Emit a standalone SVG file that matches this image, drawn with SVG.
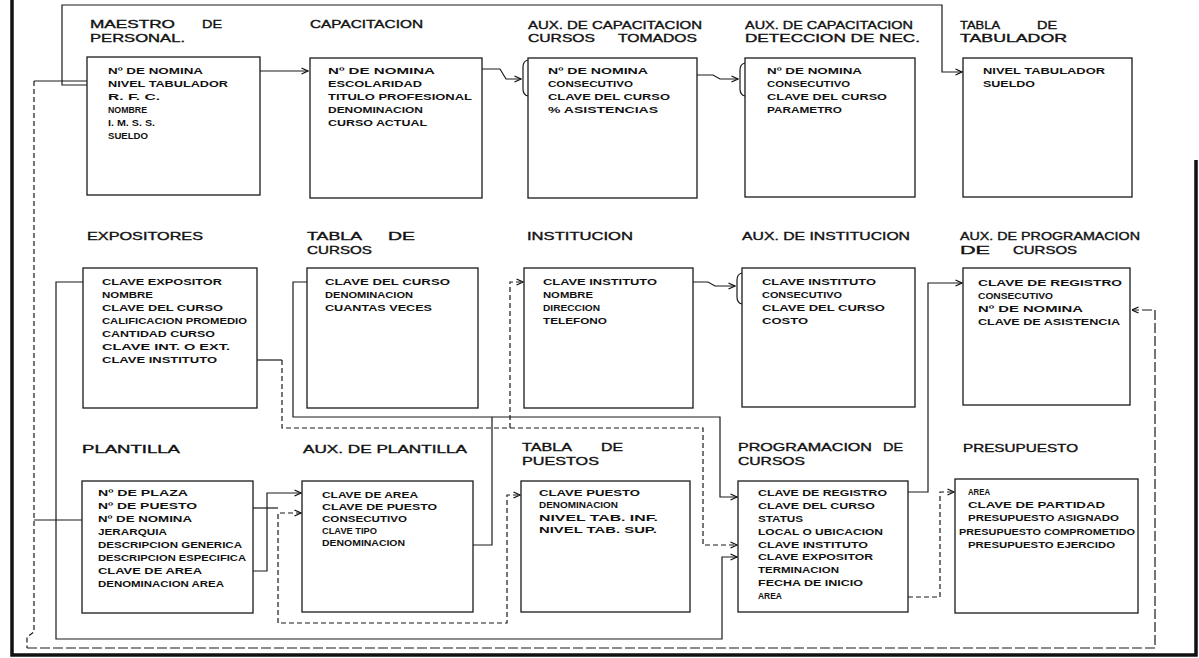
<svg xmlns="http://www.w3.org/2000/svg" width="1199" height="658" viewBox="0 0 1199 658">
<style>
.bg{fill:#fff}
.box{fill:none;stroke:#1a1a1a;stroke-width:1.3}
.t{font-family:"Liberation Sans",Arial,sans-serif;font-size:11px;fill:#111;stroke:#111;stroke-width:0.35}
.f{font-family:"Liberation Sans",Arial,sans-serif;font-size:9px;font-weight:bold;fill:#111}
.c{fill:none;stroke:#1a1a1a;stroke-width:1.2}
.d{stroke-dasharray:5 3}
.dl{stroke-dasharray:10 3}
.br{fill:none;stroke:#1a1a1a;stroke-width:1.2}
.frame{fill:none;stroke:#111;stroke-width:3.5}
</style>
<defs>
<marker id="ar" viewBox="0 0 8 8" refX="7.5" refY="4" markerWidth="8" markerHeight="8" markerUnits="userSpaceOnUse" orient="auto-start-reverse">
<path d="M1,1 L7.5,4 L1,7" fill="none" stroke="#111" stroke-width="1.3"/>
</marker>
</defs>
<rect class="bg" x="0" y="0" width="1199" height="658"/>
<path class="frame" d="M12,0 V655 H1196 V160"/>

<g id="connectors">
<path class="c" d="M260,71 H308" marker-end="url(#ar)"/>
<path class="c" d="M482,69 H500 L506,79 H521" marker-end="url(#ar)"/>
<path class="c" d="M697,75 H713 L720,79 H738" marker-end="url(#ar)"/>
<path class="c" d="M87,85 H62 V5 H942 V72 H962" marker-end="url(#ar)"/>
<path class="c" d="M87,81 H34"/>
<path class="c d" d="M34,81 V632 L27,637 V648"/>
<path class="c dl" d="M27,648 H1155 V310 H1132" marker-end="url(#ar)"/>
<path class="c" d="M34,520 H82"/>
<path class="c" d="M83,282 H56 V639 H722 V557 H737" marker-end="url(#ar)"/>
<path class="c" d="M307,282 H293 V417 H720 V497 H737" marker-end="url(#ar)"/>
<path class="c" d="M473,545 H492 V417"/>
<path class="c" d="M257,360 H282"/>
<path class="c d" d="M282,360 V428 H703 V545 H737" marker-end="url(#ar)"/>
<path class="c d" d="M510,428 V282 H523" marker-end="url(#ar)"/>
<path class="c" d="M693,282 H708 L715,286 H735" marker-end="url(#ar)"/>
<path class="c" d="M908,492 H928 V283 H962" marker-end="url(#ar)"/>
<path class="c d" d="M908,597 H940 V492 H954" marker-end="url(#ar)"/>
<path class="c" d="M253,571 H267 V493 H301" marker-end="url(#ar)"/>
<path class="c" d="M253,508 H278"/>
<path class="c d" d="M301,513 H278 V623 H507 V495 H520" marker-start="url(#ar)" marker-end="url(#ar)"/>
</g>

<g id="maestro-de-personal">
<rect class="box" x="87" y="57" width="173" height="138"/>
<text class="t" x="90" y="28" textLength="85" lengthAdjust="spacingAndGlyphs">MAESTRO</text>
<text class="t" x="202" y="28" textLength="20" lengthAdjust="spacingAndGlyphs">DE</text>
<text class="t" x="90" y="42" textLength="95" lengthAdjust="spacingAndGlyphs">PERSONAL.</text>
<text class="f" x="108" y="74" textLength="95" lengthAdjust="spacingAndGlyphs">Nº DE NOMINA</text>
<text class="f" x="108" y="87" textLength="120" lengthAdjust="spacingAndGlyphs">NIVEL TABULADOR</text>
<text class="f" x="108" y="100" textLength="52" lengthAdjust="spacingAndGlyphs">R. F. C.</text>
<text class="f" x="108" y="113" textLength="39" lengthAdjust="spacingAndGlyphs">NOMBRE</text>
<text class="f" x="108" y="126" textLength="47" lengthAdjust="spacingAndGlyphs">I. M. S. S.</text>
<text class="f" x="108" y="139" textLength="40" lengthAdjust="spacingAndGlyphs">SUELDO</text>
</g>

<g id="capacitacion">
<rect class="box" x="310" y="58" width="172" height="140"/>
<text class="t" x="310" y="28" textLength="113" lengthAdjust="spacingAndGlyphs">CAPACITACION</text>
<text class="f" x="328" y="74" textLength="107" lengthAdjust="spacingAndGlyphs">Nº DE NOMINA</text>
<text class="f" x="328" y="87" textLength="94" lengthAdjust="spacingAndGlyphs">ESCOLARIDAD</text>
<text class="f" x="328" y="100" textLength="144" lengthAdjust="spacingAndGlyphs">TITULO PROFESIONAL</text>
<text class="f" x="328" y="113" textLength="95" lengthAdjust="spacingAndGlyphs">DENOMINACION</text>
<text class="f" x="328" y="126" textLength="99" lengthAdjust="spacingAndGlyphs">CURSO ACTUAL</text>
</g>

<g id="aux-capacitacion-cursos-tomados">
<rect class="box" x="528" y="58" width="169" height="140"/>
<path class="br" d="M528,60 Q523,61 523,67 V89 Q523,95 528,96"/>
<text class="t" x="528" y="29" textLength="174" lengthAdjust="spacingAndGlyphs">AUX. DE CAPACITACION</text>
<text class="t" x="528" y="42" textLength="67" lengthAdjust="spacingAndGlyphs">CURSOS</text>
<text class="t" x="618" y="42" textLength="79" lengthAdjust="spacingAndGlyphs">TOMADOS</text>
<text class="f" x="548" y="74" textLength="100" lengthAdjust="spacingAndGlyphs">Nº DE NOMINA</text>
<text class="f" x="548" y="87" textLength="85" lengthAdjust="spacingAndGlyphs">CONSECUTIVO</text>
<text class="f" x="548" y="100" textLength="122" lengthAdjust="spacingAndGlyphs">CLAVE DEL CURSO</text>
<text class="f" x="548" y="113" textLength="110" lengthAdjust="spacingAndGlyphs">% ASISTENCIAS</text>
</g>

<g id="aux-capacitacion-deteccion">
<rect class="box" x="745" y="58" width="170" height="139"/>
<path class="br" d="M745,63 Q740,64 740,70 V89 Q740,95 745,96"/>
<text class="t" x="745" y="29" textLength="168" lengthAdjust="spacingAndGlyphs">AUX. DE CAPACITACION</text>
<text class="t" x="745" y="42" textLength="175" lengthAdjust="spacingAndGlyphs">DETECCION DE NEC.</text>
<text class="f" x="767" y="74" textLength="95" lengthAdjust="spacingAndGlyphs">Nº DE NOMINA</text>
<text class="f" x="767" y="87" textLength="83" lengthAdjust="spacingAndGlyphs">CONSECUTIVO</text>
<text class="f" x="767" y="100" textLength="120" lengthAdjust="spacingAndGlyphs">CLAVE DEL CURSO</text>
<text class="f" x="767" y="113" textLength="75" lengthAdjust="spacingAndGlyphs">PARAMETRO</text>
</g>

<g id="tabla-de-tabulador">
<rect class="box" x="963" y="58" width="169" height="139"/>
<text class="t" x="960" y="29" textLength="40" lengthAdjust="spacingAndGlyphs">TABLA</text>
<text class="t" x="1037" y="29" textLength="20" lengthAdjust="spacingAndGlyphs">DE</text>
<text class="t" x="960" y="42" textLength="107" lengthAdjust="spacingAndGlyphs">TABULADOR</text>
<text class="f" x="983" y="74" textLength="122" lengthAdjust="spacingAndGlyphs">NIVEL TABULADOR</text>
<text class="f" x="983" y="87" textLength="52" lengthAdjust="spacingAndGlyphs">SUELDO</text>
</g>

<g id="expositores">
<rect class="box" x="83" y="268" width="174" height="140"/>
<text class="t" x="87" y="240" textLength="116" lengthAdjust="spacingAndGlyphs">EXPOSITORES</text>
<text class="f" x="102" y="285" textLength="120" lengthAdjust="spacingAndGlyphs">CLAVE EXPOSITOR</text>
<text class="f" x="102" y="298" textLength="51" lengthAdjust="spacingAndGlyphs">NOMBRE</text>
<text class="f" x="102" y="311" textLength="121" lengthAdjust="spacingAndGlyphs">CLAVE DEL CURSO</text>
<text class="f" x="102" y="324" textLength="145" lengthAdjust="spacingAndGlyphs">CALIFICACION PROMEDIO</text>
<text class="f" x="102" y="337" textLength="113" lengthAdjust="spacingAndGlyphs">CANTIDAD CURSO</text>
<text class="f" x="102" y="350" textLength="128" lengthAdjust="spacingAndGlyphs">CLAVE INT. O EXT.</text>
<text class="f" x="102" y="363" textLength="115" lengthAdjust="spacingAndGlyphs">CLAVE INSTITUTO</text>
</g>

<g id="tabla-de-cursos">
<rect class="box" x="307" y="268" width="171" height="140"/>
<text class="t" x="307" y="240" textLength="55" lengthAdjust="spacingAndGlyphs">TABLA</text>
<text class="t" x="388" y="240" textLength="27" lengthAdjust="spacingAndGlyphs">DE</text>
<text class="t" x="307" y="254" textLength="65" lengthAdjust="spacingAndGlyphs">CURSOS</text>
<text class="f" x="325" y="285" textLength="125" lengthAdjust="spacingAndGlyphs">CLAVE DEL CURSO</text>
<text class="f" x="325" y="298" textLength="88" lengthAdjust="spacingAndGlyphs">DENOMINACION</text>
<text class="f" x="325" y="311" textLength="107" lengthAdjust="spacingAndGlyphs">CUANTAS VECES</text>
</g>

<g id="institucion">
<rect class="box" x="524" y="268" width="169" height="140"/>
<text class="t" x="527" y="240" textLength="106" lengthAdjust="spacingAndGlyphs">INSTITUCION</text>
<text class="f" x="543" y="285" textLength="114" lengthAdjust="spacingAndGlyphs">CLAVE INSTITUTO</text>
<text class="f" x="543" y="298" textLength="50" lengthAdjust="spacingAndGlyphs">NOMBRE</text>
<text class="f" x="543" y="311" textLength="57" lengthAdjust="spacingAndGlyphs">DIRECCION</text>
<text class="f" x="543" y="324" textLength="64" lengthAdjust="spacingAndGlyphs">TELEFONO</text>
</g>

<g id="aux-de-institucion">
<rect class="box" x="742" y="268" width="173" height="139"/>
<path class="br" d="M742,273 Q737,274 737,280 V297 Q737,303 742,304"/>
<text class="t" x="742" y="240" textLength="168" lengthAdjust="spacingAndGlyphs">AUX. DE INSTITUCION</text>
<text class="f" x="762" y="285" textLength="114" lengthAdjust="spacingAndGlyphs">CLAVE INSTITUTO</text>
<text class="f" x="762" y="298" textLength="80" lengthAdjust="spacingAndGlyphs">CONSECUTIVO</text>
<text class="f" x="762" y="311" textLength="123" lengthAdjust="spacingAndGlyphs">CLAVE DEL CURSO</text>
<text class="f" x="762" y="324" textLength="46" lengthAdjust="spacingAndGlyphs">COSTO</text>
</g>

<g id="aux-de-programacion-de-cursos">
<rect class="box" x="963" y="268" width="167" height="137"/>
<text class="t" x="960" y="240" textLength="180" lengthAdjust="spacingAndGlyphs">AUX. DE PROGRAMACION</text>
<text class="t" x="960" y="254" textLength="30" lengthAdjust="spacingAndGlyphs">DE</text>
<text class="t" x="1013" y="254" textLength="64" lengthAdjust="spacingAndGlyphs">CURSOS</text>
<text class="f" x="978" y="286" textLength="144" lengthAdjust="spacingAndGlyphs">CLAVE DE REGISTRO</text>
<text class="f" x="978" y="299" textLength="75" lengthAdjust="spacingAndGlyphs">CONSECUTIVO</text>
<text class="f" x="978" y="312" textLength="105" lengthAdjust="spacingAndGlyphs">Nº DE NOMINA</text>
<text class="f" x="978" y="325" textLength="142" lengthAdjust="spacingAndGlyphs">CLAVE DE ASISTENCIA</text>
</g>

<g id="plantilla">
<rect class="box" x="82" y="481" width="171" height="132"/>
<text class="t" x="82" y="453" textLength="98" lengthAdjust="spacingAndGlyphs">PLANTILLA</text>
<text class="f" x="98" y="496" textLength="90" lengthAdjust="spacingAndGlyphs">Nº DE PLAZA</text>
<text class="f" x="98" y="509" textLength="99" lengthAdjust="spacingAndGlyphs">Nº DE PUESTO</text>
<text class="f" x="98" y="522" textLength="94" lengthAdjust="spacingAndGlyphs">Nº DE NOMINA</text>
<text class="f" x="98" y="535" textLength="69" lengthAdjust="spacingAndGlyphs">JERARQUIA</text>
<text class="f" x="98" y="548" textLength="144" lengthAdjust="spacingAndGlyphs">DESCRIPCION GENERICA</text>
<text class="f" x="98" y="561" textLength="148" lengthAdjust="spacingAndGlyphs">DESCRIPCION ESPECIFICA</text>
<text class="f" x="98" y="574" textLength="104" lengthAdjust="spacingAndGlyphs">CLAVE DE AREA</text>
<text class="f" x="98" y="587" textLength="126" lengthAdjust="spacingAndGlyphs">DENOMINACION AREA</text>
</g>

<g id="aux-de-plantilla">
<rect class="box" x="302" y="481" width="171" height="131"/>
<text class="t" x="303" y="453" textLength="164" lengthAdjust="spacingAndGlyphs">AUX. DE PLANTILLA</text>
<text class="f" x="322" y="498" textLength="96" lengthAdjust="spacingAndGlyphs">CLAVE DE AREA</text>
<text class="f" x="322" y="510" textLength="115" lengthAdjust="spacingAndGlyphs">CLAVE DE PUESTO</text>
<text class="f" x="322" y="522" textLength="85" lengthAdjust="spacingAndGlyphs">CONSECUTIVO</text>
<text class="f" x="322" y="534" textLength="55" lengthAdjust="spacingAndGlyphs">CLAVE TIPO</text>
<text class="f" x="322" y="546" textLength="83" lengthAdjust="spacingAndGlyphs">DENOMINACION</text>
</g>

<g id="tabla-de-puestos">
<rect class="box" x="521" y="481" width="169" height="131"/>
<text class="t" x="522" y="451" textLength="50" lengthAdjust="spacingAndGlyphs">TABLA</text>
<text class="t" x="601" y="451" textLength="22" lengthAdjust="spacingAndGlyphs">DE</text>
<text class="t" x="522" y="465" textLength="77" lengthAdjust="spacingAndGlyphs">PUESTOS</text>
<text class="f" x="539" y="496" textLength="101" lengthAdjust="spacingAndGlyphs">CLAVE PUESTO</text>
<text class="f" x="539" y="508" textLength="79" lengthAdjust="spacingAndGlyphs">DENOMINACION</text>
<text class="f" x="539" y="521" textLength="119" lengthAdjust="spacingAndGlyphs">NIVEL TAB. INF.</text>
<text class="f" x="539" y="533" textLength="118" lengthAdjust="spacingAndGlyphs">NIVEL TAB. SUP.</text>
</g>

<g id="programacion-de-cursos">
<rect class="box" x="738" y="481" width="170" height="131"/>
<text class="t" x="738" y="451" textLength="134" lengthAdjust="spacingAndGlyphs">PROGRAMACION</text>
<text class="t" x="883" y="451" textLength="20" lengthAdjust="spacingAndGlyphs">DE</text>
<text class="t" x="738" y="465" textLength="67" lengthAdjust="spacingAndGlyphs">CURSOS</text>
<text class="f" x="758" y="496" textLength="129" lengthAdjust="spacingAndGlyphs">CLAVE DE REGISTRO</text>
<text class="f" x="758" y="509" textLength="117" lengthAdjust="spacingAndGlyphs">CLAVE DEL CURSO</text>
<text class="f" x="758" y="522" textLength="45" lengthAdjust="spacingAndGlyphs">STATUS</text>
<text class="f" x="758" y="535" textLength="125" lengthAdjust="spacingAndGlyphs">LOCAL O UBICACION</text>
<text class="f" x="758" y="548" textLength="110" lengthAdjust="spacingAndGlyphs">CLAVE INSTITUTO</text>
<text class="f" x="758" y="560" textLength="115" lengthAdjust="spacingAndGlyphs">CLAVE EXPOSITOR</text>
<text class="f" x="758" y="573" textLength="81" lengthAdjust="spacingAndGlyphs">TERMINACION</text>
<text class="f" x="758" y="586" textLength="105" lengthAdjust="spacingAndGlyphs">FECHA DE INICIO</text>
<text class="f" x="758" y="599" textLength="24" lengthAdjust="spacingAndGlyphs">AREA</text>
</g>

<g id="presupuesto">
<rect class="box" x="955" y="479" width="183" height="134"/>
<text class="t" x="963" y="452" textLength="115" lengthAdjust="spacingAndGlyphs">PRESUPUESTO</text>
<text class="f" x="968" y="495" textLength="22" lengthAdjust="spacingAndGlyphs">AREA</text>
<text class="f" x="968" y="508" textLength="137" lengthAdjust="spacingAndGlyphs">CLAVE DE PARTIDAD</text>
<text class="f" x="968" y="521" textLength="151" lengthAdjust="spacingAndGlyphs">PRESUPUESTO ASIGNADO</text>
<text class="f" x="959" y="535" textLength="176" lengthAdjust="spacingAndGlyphs">PRESUPUESTO COMPROMETIDO</text>
<text class="f" x="968" y="548" textLength="147" lengthAdjust="spacingAndGlyphs">PRESUPUESTO EJERCIDO</text>
</g>
</svg>
